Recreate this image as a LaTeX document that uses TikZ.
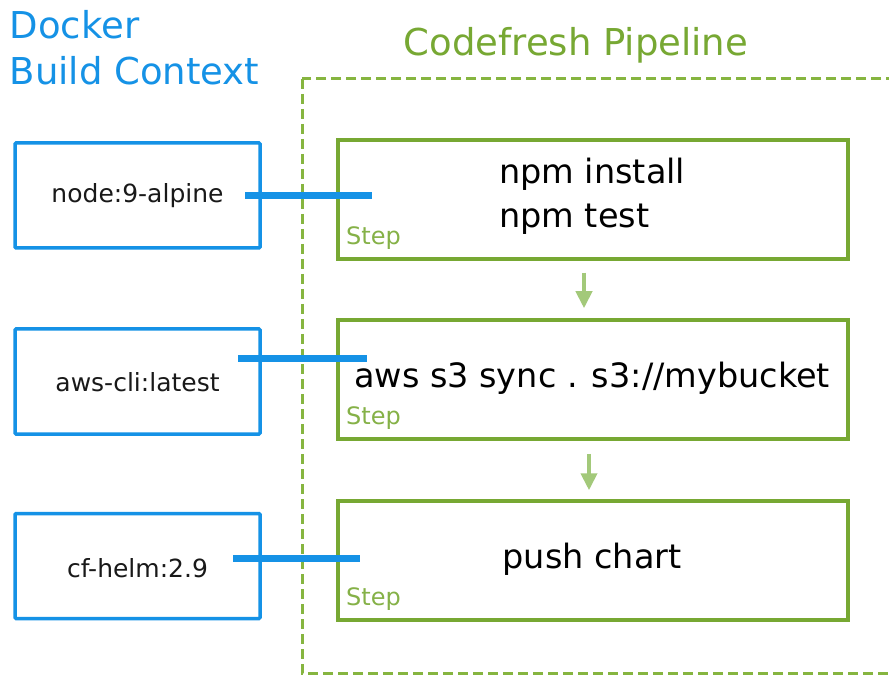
\documentclass[tikz,border=0pt]{standalone}
\usepackage{fontspec}
\setmainfont{DejaVu Sans}
\usetikzlibrary{arrows.meta}
\definecolor{dblue}{HTML}{1592E6}
\definecolor{cgreen}{HTML}{77A833}
\definecolor{dgreen}{HTML}{86B540}
\definecolor{lgreen}{HTML}{A3C97A}
\begin{document}
\begin{tikzpicture}[x=1pt,y=-1pt,
  dockbox/.style={draw=dblue,line width=3.5pt,minimum width=245pt,minimum height=105pt,inner sep=0pt,rounded corners=1pt},
  stepbox/.style={draw=cgreen,line width=3.5pt,minimum width=510pt,minimum height=119pt,inner sep=0pt},
  docktext/.style={anchor=base,inner sep=0pt,font=\fontsize{25}{30}\selectfont,text=black!90},
  steptext/.style={anchor=base,inner sep=0pt,font=\fontsize{33.5}{40}\selectfont,text=black},
  steptag/.style={anchor=base west,inner sep=0pt,font=\fontsize{24}{29}\selectfont,text=cgreen!90!white},
  title/.style={inner sep=0pt,font=\fontsize{37}{44}\selectfont},
  link/.style={draw=dblue,line width=7pt},
  flow/.style={draw=lgreen,line width=4pt,-{Triangle[width=16pt,length=17pt]}}
]
\useasboundingbox (0,0) rectangle (889,676);
\clip (0,0) rectangle (889,676);
\fill[white] (0,0) rectangle (889,676);

% titles
\node[title,anchor=base west,text=dblue] (dt1) at (9.5,39) {Docker};
\node[title,anchor=base west,text=dblue] (dt2) at (9.5,85) {Build Context};
\node[title,anchor=base,text=cgreen] (ct) at (576,56) {Codefresh Pipeline};

% pipeline container
\draw[dgreen,line width=3pt,dash pattern=on 10pt off 5pt] (302,79) rectangle (905,673);

% docker boxes
\node[dockbox] (d1) at (137.5,195.5) {};
\node[dockbox] (d2) at (137.5,381.5) {};
\node[dockbox] (d3) at (137.5,566) {};
\node[docktext] (td1) at (137.5,203) {node:9-alpine};
\node[docktext] (td2) at (137.5,391) {aws-cli:latest};
\node[docktext] (td3) at (137.5,577) {cf-helm:2.9};

% step boxes
\node[stepbox] (s1) at (593,199.5) {};
\node[stepbox] (s2) at (593,379.5) {};
\node[stepbox] (s3) at (593,560.5) {};
\node[steptext,anchor=base west] (ts1a) at (499,184) {npm install};
\node[steptext,anchor=base west] (ts1b) at (499,228) {npm test};
\node[steptext] (ts2) at (592,388) {aws s3 sync . s3://mybucket};
\node[steptext] (ts3) at (592,568) {push chart};
\node[steptag] (g1) at (346,245) {Step};
\node[steptag] (g2) at (346,424) {Step};
\node[steptag] (g3) at (346,605) {Step};

% flow arrows
\draw[flow,shorten <=12pt,shorten >=10pt] ([xshift=-9pt]s1.south) -- ([xshift=-9pt]s2.north);
\draw[flow,shorten <=13pt,shorten >=9pt] ([xshift=-4pt]s2.south) -- ([xshift=-4pt]s3.north);

% links
\coordinate (l1a) at (245,196); \coordinate (l1b) at (372,196);
\coordinate (l2a) at (238,358); \coordinate (l2b) at (367,358);
\coordinate (l3a) at (233,558); \coordinate (l3b) at (360,558);
\draw[link] (l1a) -- (l1b);
\draw[link] (l2a) -- (l2b);
\draw[link] (l3a) -- (l3b);
\end{tikzpicture}
\end{document}
